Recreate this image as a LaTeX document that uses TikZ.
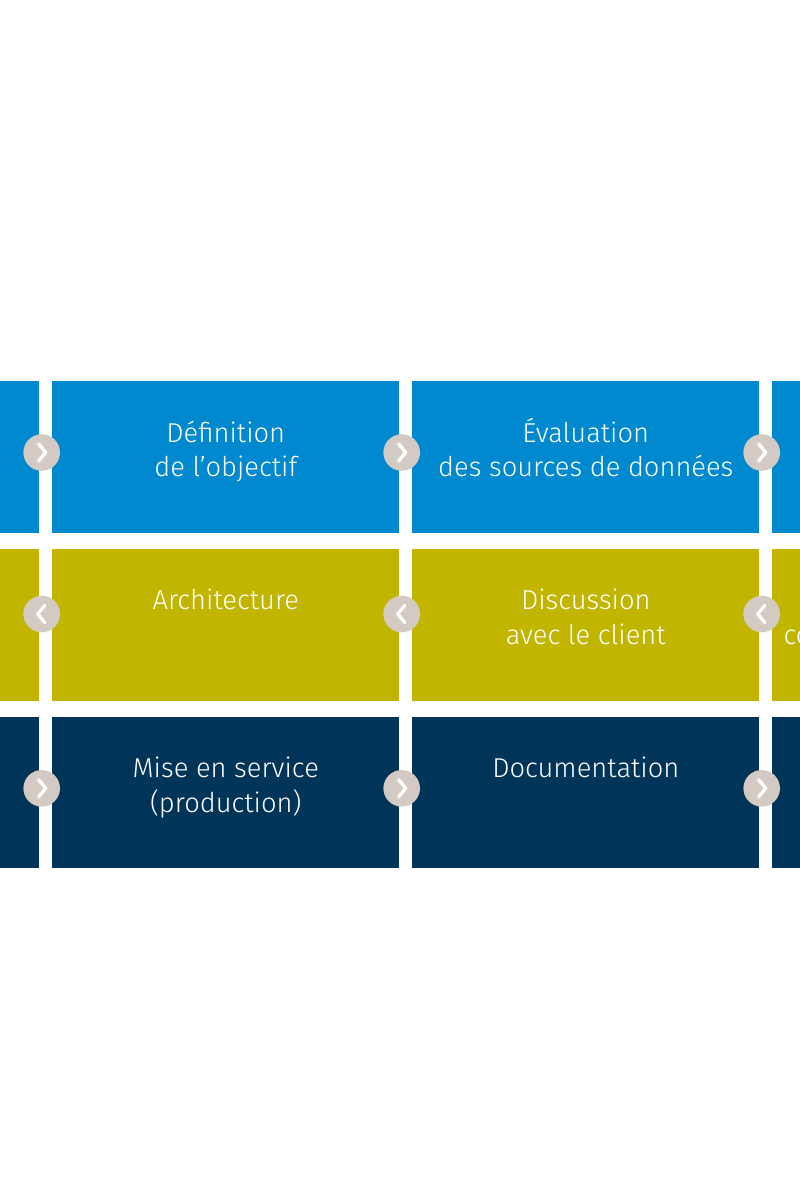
\documentclass[tikz,border=0pt]{standalone}
\usepackage{fontspec}
\setmainfont{Fira Sans}[UprightFont=* Light]
\definecolor{cblue}{HTML}{0089CF}
\definecolor{colive}{HTML}{C2B500}
\definecolor{cnavy}{HTML}{003459}
\definecolor{cdot}{HTML}{D3CBC3}
\begin{document}
\begin{tikzpicture}[x=1pt,y=-1pt,
  cell/.style={draw=none,inner sep=0pt,minimum width=347pt,minimum height=151.5pt},
  lbl/.style={text=white,inner sep=0pt,anchor=base,font=\fontsize{27.3}{34}\selectfont},
  dot/.style={circle,fill=cdot,draw=none,inner sep=0pt,minimum size=36.6pt},
  chev/.style={draw=white,line width=3.4pt,line cap=round,line join=round}]
\useasboundingbox (0,0) rectangle (800,1200);
\clip (0,0) rectangle (800,1200);
\fill[white] (0,0) rectangle (800,1200);
% row 1
\node[cell,fill=cblue] (a0) at (-134.2,456.9) {};
\node[cell,fill=cblue] (a1) at (225.8,456.9) {};
\node[cell,fill=cblue] (a2) at (585.8,456.9) {};
\node[cell,fill=cblue] (a3) at (945.8,456.9) {};
% row 2
\node[cell,fill=colive] (b0) at (-134.2,625.2) {};
\node[cell,fill=colive] (b1) at (225.8,625.2) {};
\node[cell,fill=colive] (b2) at (585.8,625.2) {};
\node[cell,fill=colive] (b3) at (945.8,625.2) {};
% row 3
\node[cell,fill=cnavy] (c0) at (-134.2,792.5) {};
\node[cell,fill=cnavy] (c1) at (225.8,792.5) {};
\node[cell,fill=cnavy] (c2) at (585.8,792.5) {};
\node[cell,fill=cnavy] (c3) at (945.8,792.5) {};
% texts
\node[lbl] (a1t1) at (225.8,442) {Définition};
\node[lbl] (a1t2) at (225.8,476.5) {de l’objectif};
\node[lbl] (a2t1) at (585.8,442) {Évaluation};
\node[lbl] (a2t2) at (585.8,476.5) {des sources de données};
\node[lbl] (b1t1) at (225.8,609.5) {Architecture};
\node[lbl] (b2t1) at (585.8,609.5) {Discussion};
\node[lbl] (b2t2) at (585.8,644.5) {avec le client};
\node[lbl,anchor=base west] (b3t2) at (783.3,644.5) {co};
\node[lbl] (c1t1) at (225.8,777.7) {Mise en service};
\node[lbl] (c1t2) at (225.8,812) {(production)};
\node[lbl] (c2t1) at (585.8,777.7) {Documentation};
% dots row 1 (right chevrons)
\foreach \n/\x in {d1/41.7,d2/401.7,d3/761.7}{
  \node[dot] (\n) at (\x,452.5) {};
  \draw[chev] ([shift={(-3,-8.5)}]\n.center) -- ([shift={(4,0)}]\n.center) -- ([shift={(-3,8.5)}]\n.center);
}
% dots row 2 (left chevrons)
\foreach \n/\x in {e1/41.7,e2/401.7,e3/761.7}{
  \node[dot] (\n) at (\x,614) {};
  \draw[chev] ([shift={(3,-8.5)}]\n.center) -- ([shift={(-4,0)}]\n.center) -- ([shift={(3,8.5)}]\n.center);
}
% dots row 3 (right chevrons)
\foreach \n/\x in {f1/41.7,f2/401.7,f3/761.7}{
  \node[dot] (\n) at (\x,788.3) {};
  \draw[chev] ([shift={(-3,-8.5)}]\n.center) -- ([shift={(4,0)}]\n.center) -- ([shift={(-3,8.5)}]\n.center);
}
\end{tikzpicture}
\end{document}
